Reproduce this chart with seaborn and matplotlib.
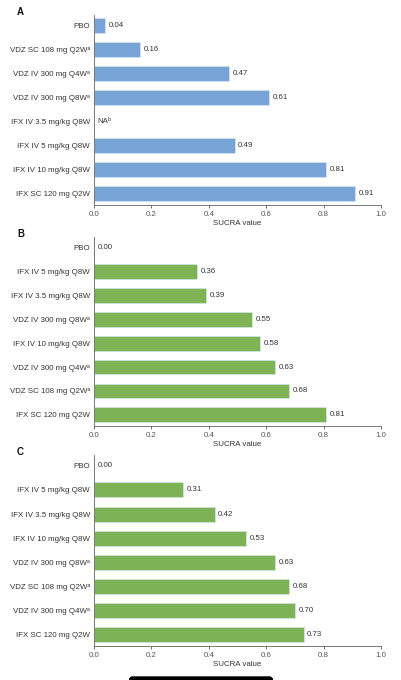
import numpy as np
import pandas as pd
import matplotlib.pyplot as plt
import seaborn as sns
from matplotlib.patches import FancyBboxPatch

sns.set_style("white")
plt.rcParams["font.family"] = ["Liberation Sans", "DejaVu Sans"]

# ---- data ----
labels_a = ["PBO", "VDZ SC 108 mg Q2Wᵃ", "VDZ IV 300 mg Q4Wᵃ", "VDZ IV 300 mg Q8Wᵃ",
            "IFX IV 3.5 mg/kg Q8W", "IFX IV 5 mg/kg Q8W", "IFX IV 10 mg/kg Q8W",
            "IFX SC 120 mg Q2W"]
values_a = [0.04, 0.16, 0.47, 0.61, np.nan, 0.49, 0.81, 0.91]

labels_b = ["PBO", "IFX IV 5 mg/kg Q8W", "IFX IV 3.5 mg/kg Q8W", "VDZ IV 300 mg Q8Wᵃ",
            "IFX IV 10 mg/kg Q8W", "VDZ IV 300 mg Q4Wᵃ", "VDZ SC 108 mg Q2Wᵃ",
            "IFX SC 120 mg Q2W"]
values_b = [0.00, 0.36, 0.39, 0.55, 0.58, 0.63, 0.68, 0.81]

labels_c = ["PBO", "IFX IV 5 mg/kg Q8W", "IFX IV 3.5 mg/kg Q8W", "IFX IV 10 mg/kg Q8W",
            "VDZ IV 300 mg Q8Wᵃ", "VDZ SC 108 mg Q2Wᵃ", "VDZ IV 300 mg Q4Wᵃ",
            "IFX SC 120 mg Q2W"]
values_c = [0.00, 0.31, 0.42, 0.53, 0.63, 0.68, 0.70, 0.73]

panels = [
    ("A", labels_a, values_a, "#78a3d6", [15, 205]),
    ("B", labels_b, values_b, "#7db354", [237, 426]),
    ("C", labels_c, values_c, "#7db354", [455, 646]),
]

W, H = 402, 680
FS = 5.7
fig = plt.figure(figsize=(W / 100, H / 100), dpi=100)

for letter, labels, values, color, (top, bottom) in panels:
    ax = fig.add_axes([94 / W, 1 - bottom / H, 287 / W, (bottom - top) / H])
    df = pd.DataFrame({"label": labels, "value": values})
    sns.barplot(data=df, x="value", y="label", order=labels, orient="h",
                color=color, saturation=1, width=0.62, edgecolor="#dfe8f0",
                linewidth=0.4, ax=ax)
    for i, v in enumerate(values):
        txt = "NAᵇ" if np.isnan(v) else f"{v:.2f}"
        xv = 0 if np.isnan(v) else v
        ax.text(xv + 0.012, i, txt, va="center", ha="left", fontsize=FS, color="#333333")
    ax.set_xlim(0, 1.0)
    ax.set_ylim(7.47, -0.45)
    ax.set_xticks(np.arange(0, 1.01, 0.2))
    ax.set_xticklabels([f"{t:.1f}" for t in np.arange(0, 1.01, 0.2)])
    ax.set_xlabel("SUCRA value", fontsize=FS, color="#333333", labelpad=2)
    ax.set_ylabel("")
    ax.tick_params(axis="x", labelsize=FS, colors="#555555", length=2, width=0.6,
                   pad=2, bottom=True)
    ax.tick_params(axis="y", labelsize=FS, colors="#333333", length=0, pad=3)
    for lab in ax.get_yticklabels():
        lab.set_color("#333333")
    sns.despine(ax=ax, top=True, right=True)
    for s in ["left", "bottom"]:
        ax.spines[s].set_color("#777777")
        ax.spines[s].set_linewidth(0.7)
    fig.text(17 / W, 1 - (top - 3) / H, letter, fontsize=7, fontweight="bold",
             ha="left", va="center", color="#111111")

# phone home indicator at the bottom of the screenshot
fig.patches.append(FancyBboxPatch((130 / W, 1 - 682 / H), 142 / W, 5 / H,
                                  boxstyle="round,pad=0,rounding_size=0.006",
                                  transform=fig.transFigure, color="black"))

fig.savefig("out.png", dpi=100)
